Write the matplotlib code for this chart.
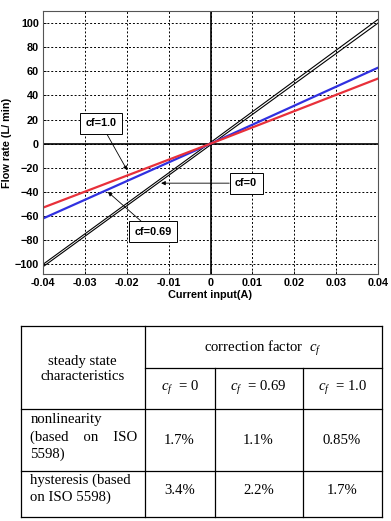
import matplotlib
matplotlib.use("Agg")
import matplotlib.pyplot as plt
from matplotlib.lines import Line2D

W, H = 391, 521
fig = plt.figure(figsize=(W/100, H/100), dpi=100)

# ---------------- data ----------------
current = [-0.04, 0.0, 0.04]
cf0_up = [-102, -1, 100]
cf0_down = [-100, 1, 103]
cf069 = [-62, 0, 63]
cf10 = [-53, 0, 54]

xticks = [-0.04, -0.03, -0.02, -0.01, 0, 0.01, 0.02, 0.03, 0.04]
xticklabels = ['-0.04', '-0.03', '-0.02', '-0.01', '0', '0.01', '0.02', '0.03', '0.04']
yticks = [-100, -80, -60, -40, -20, 0, 20, 40, 60, 80, 100]

labels = ['cf=1.0', 'cf=0', 'cf=0.69']

row_header = 'steady state\ncharacteristics'
col_header = 'correction factor  $c_f$'
col_labels = ['$c_f$  = 0', '$c_f$  = 0.69', '$c_f$  = 1.0']
row_labels = ['nonlinearity\n(based    on    ISO\n5598)', 'hysteresis (based\non ISO 5598)']
nonlinearity = ['1.7%', '1.1%', '0.85%']
hysteresis = ['3.4%', '2.2%', '1.7%']

# ---------------- chart ----------------
def px(x0, y0, x1, y1):
    return [x0/W, 1-y1/H, (x1-x0)/W, (y1-y0)/H]

plt.rcParams['mathtext.fontset'] = 'custom'
plt.rcParams['mathtext.it'] = 'Liberation Serif:italic'
plt.rcParams['mathtext.rm'] = 'Liberation Serif'

ax = fig.add_axes(px(43, 11, 378, 274))
sans = ['Liberation Sans', 'DejaVu Sans']

ax.plot(current, cf0_up, color='black', lw=0.8)
ax.plot(current, cf0_down, color='black', lw=0.8)
ax.plot(current, cf069, color='#3030e0', lw=1.6)
ax.plot(current, cf10, color='#e8303a', lw=1.6)

ax.axhline(0, color='black', lw=1.2, zorder=1)
ax.axvline(0, color='black', lw=1.2, zorder=1)

ax.set_xlim(-0.04, 0.04)
ax.set_ylim(-108, 110)
ax.set_xticks(xticks)
ax.set_xticklabels(xticklabels)
ax.set_yticks(yticks)
ax.grid(True, color='black', linestyle=(0, (2, 2)), lw=0.7)
ax.tick_params(direction='in', length=2, width=0.6, pad=3)
for t in ax.get_xticklabels() + ax.get_yticklabels():
    t.set_fontfamily(sans)
    t.set_fontweight('bold')
    t.set_fontsize(7.8)
for s in ax.spines.values():
    s.set_color('#555555')
    s.set_linewidth(0.8)
ax.set_xlabel('Current input(A)', fontfamily=sans, fontweight='bold', fontsize=7.8, labelpad=1.5)
ax.set_ylabel('Flow rate (L/ min)', fontfamily=sans, fontweight='bold', fontsize=7.8, labelpad=2)

bbox = dict(boxstyle='square,pad=0.5', fc='white', ec='black', lw=0.7)
ap = dict(arrowstyle='-|>', color='black', lw=0.6, mutation_scale=6, shrinkA=0, shrinkB=0)
ax.annotate(labels[0], xy=(-0.0199, -22), xytext=(-0.0262, 17), ha='center', va='center',
            fontfamily=sans, fontweight='bold', fontsize=7.8, bbox=bbox, arrowprops=ap)
ax.annotate(labels[1], xy=(-0.0118, -32.7), xytext=(0.0085, -32.7), ha='center', va='center',
            fontfamily=sans, fontweight='bold', fontsize=7.8, bbox=bbox, arrowprops=ap)
ax.annotate(labels[2], xy=(-0.0245, -40), xytext=(-0.0137, -73), ha='center', va='center',
            fontfamily=sans, fontweight='bold', fontsize=7.8, bbox=bbox, arrowprops=ap)

# ---------------- table ----------------
tax = fig.add_axes([0, 0, 1, 1])
tax.set_xlim(0, W)
tax.set_ylim(H, 0)
tax.axis('off')

L, R, T, B = 21, 381.5, 326, 516.5
c1, c2, c3 = 144.5, 214.5, 302.5
rh, r1, r2 = 367.5, 409, 471
lw = 0.9
lines = [
    ((L, R), (T, T)), ((L, R), (B, B)), ((L, L), (T, B)), ((R, R), (T, B)),
    ((c1, c1), (T, B)), ((c2, c2), (rh, B)), ((c3, c3), (rh, B)),
    ((c1, R), (rh, rh)), ((L, R), (r1, r1)), ((L, R), (r2, r2)),
]
for xs, ys in lines:
    tax.add_line(Line2D(xs, ys, color='black', lw=lw))

serif = ['Liberation Serif', 'DejaVu Serif']
fs = 10.6

tax.text((L+c1)/2, 369, row_header, ha='center', va='center', fontfamily=serif,
         fontsize=fs, linespacing=1.2)
tax.text((c1+R)/2, 348, col_header, ha='center', va='center', fontfamily=serif, fontsize=fs)
cx = [(c1+c2)/2, (c2+c3)/2, (c3+R)/2]
for x, s in zip(cx, col_labels):
    tax.text(x, 388, s, ha='center', va='center', fontfamily=serif, fontsize=fs)
tax.text(L+9.5, 437, row_labels[0], ha='left', va='center', fontfamily=serif,
         fontsize=fs, linespacing=1.38)
tax.text(L+9.5, 489, row_labels[1], ha='left', va='center', fontfamily=serif,
         fontsize=fs, linespacing=1.3)
for x, s in zip(cx, nonlinearity):
    tax.text(x, 441, s, ha='center', va='center', fontfamily=serif, fontsize=fs)
for x, s in zip(cx, hysteresis):
    tax.text(x, 491, s, ha='center', va='center', fontfamily=serif, fontsize=fs)

fig.savefig('out.png', dpi=100)
